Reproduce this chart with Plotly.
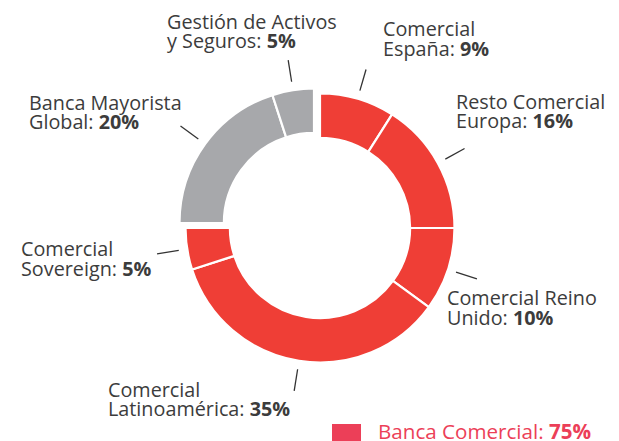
import math
import plotly.graph_objects as go

# ---------------- data ----------------
line1 = ["Comercial", "Resto Comercial", "Comercial Reino", "Comercial",
         "Comercial", "Banca Mayorista", "Gestión de Activos"]
line2 = ["España:", "Europa:", "Unido:", "Latinoamérica:",
         "Sovereign:", "Global:", "y Seguros:"]
values = [9, 16, 10, 35, 5, 20, 5]
is_comercial = [True, True, True, True, True, False, False]
legend_label = "Banca Comercial:"

# ---------------- layout / style ----------------
W, H = 619, 441
RED = "#EF3E36"
GREY = "#A7A8AB"
LEG = "#EC3F58"
TXT = "#3C3C3C"
FONT = "Open Sans"
FS = 19.8
LINE_GAP = 19.5
R = 134.5
HOLE = 0.67
red_center = (320, 228)
grey_center = (314, 223)
r_in, r_out = 143, 165
# label text anchors: (left x px, center y px of first line)
label_pos = [(381, 28.5), (454, 101), (445, 297.5), (106, 389),
             (19, 248.5), (27, 102), (165, 21.5)]

def px(x):
    return x / W

def py(y):
    return 1 - y / H

def domain(c):
    cx, cy = c
    return dict(x=[px(cx - R), px(cx + R)], y=[py(cy + R), py(cy - R)])

CLEAR = "rgba(0,0,0,0)"
fig = go.Figure()
fig.add_trace(go.Pie(
    values=values, sort=False, direction="clockwise", rotation=0, hole=HOLE,
    marker=dict(colors=[RED if c else CLEAR for c in is_comercial],
                line=dict(color=["white" if c else CLEAR for c in is_comercial], width=2.2)),
    textinfo="none", hoverinfo="skip", showlegend=False, domain=domain(red_center)))
fig.add_trace(go.Pie(
    values=values, sort=False, direction="clockwise", rotation=0, hole=HOLE,
    marker=dict(colors=[GREY if not c else CLEAR for c in is_comercial],
                line=dict(color=["white" if not c else CLEAR for c in is_comercial], width=2.2)),
    textinfo="none", hoverinfo="skip", showlegend=False, domain=domain(grey_center)))

total = sum(values)
cum = 0
shapes = []
annotations = []
for i, v in enumerate(values):
    mid = (cum + v / 2) / total * 2 * math.pi
    cum += v
    cx, cy = red_center if is_comercial[i] else grey_center
    x0, y0 = cx + r_in * math.sin(mid), cy - r_in * math.cos(mid)
    x1, y1 = cx + r_out * math.sin(mid), cy - r_out * math.cos(mid)
    shapes.append(dict(type="line", xref="paper", yref="paper",
                       x0=px(x0), y0=py(y0), x1=px(x1), y1=py(y1),
                       line=dict(color="#333333", width=1.3)))
    lx, ly = label_pos[i]
    annotations.append(dict(x=px(lx), y=py(ly), xref="paper", yref="paper",
                            xanchor="left", yanchor="middle", showarrow=False,
                            text=line1[i], font=dict(family=FONT, size=FS, color=TXT)))
    annotations.append(dict(x=px(lx), y=py(ly + LINE_GAP), xref="paper", yref="paper",
                            xanchor="left", yanchor="middle", showarrow=False,
                            text=f"{line2[i]} <b>{v}%</b>",
                            font=dict(family=FONT, size=FS, color=TXT)))

com_total = sum(v for v, c in zip(values, is_comercial) if c)
shapes.append(dict(type="rect", xref="paper", yref="paper",
                   x0=px(332), x1=px(361), y0=py(441), y1=py(424),
                   fillcolor=LEG, line=dict(width=0)))
annotations.append(dict(x=px(376), y=py(430.5), xref="paper", yref="paper",
                        xanchor="left", yanchor="middle", showarrow=False,
                        text=f"{legend_label} <b>{com_total}%</b>",
                        font=dict(family=FONT, size=20.6, color=LEG)))

fig.update_layout(width=W, height=H, margin=dict(l=0, r=0, t=0, b=0),
                  paper_bgcolor="white", plot_bgcolor="white",
                  shapes=shapes, annotations=annotations, showlegend=False)
fig.write_html("out.html", config={"displayModeBar": False},
               post_script="document.body.style.margin='0';document.body.style.overflow='hidden';")
